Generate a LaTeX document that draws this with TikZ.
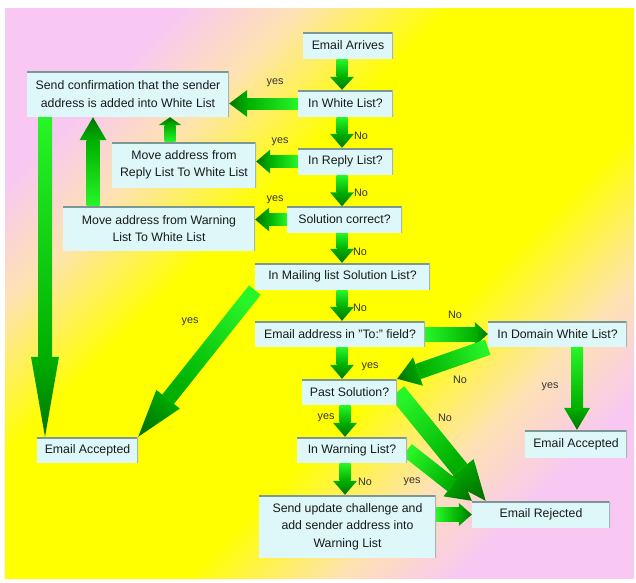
\documentclass[tikz,border=0pt]{standalone}
\usepackage{fontspec}
\setmainfont{Liberation Sans}
\usepackage{tikz}
\usetikzlibrary{calc}

\definecolor{boxfill}{RGB}{222,248,250}
\definecolor{boxedge}{RGB}{125,150,150}
\definecolor{bgpink}{RGB}{248,200,242}
\definecolor{bgpeach}{RGB}{254,226,178}
\definecolor{bgyellow}{RGB}{255,255,0}
\definecolor{arrowlight}{RGB}{40,245,40}
\definecolor{arrowmid}{RGB}{0,175,0}
\definecolor{arrowdark}{RGB}{0,118,0}

\pgfdeclarehorizontalshading{bgshade}{100bp}{color(0bp)=(bgpink); color(25bp)=(bgpink);
  color(32bp)=(bgpeach); color(41bp)=(bgyellow); color(59bp)=(bgyellow);
  color(68bp)=(bgpeach); color(75bp)=(bgpink); color(100bp)=(bgpink)}

\pgfdeclarelayer{backdrop}
\pgfdeclarelayer{arrowlayer}
\pgfsetlayers{backdrop,arrowlayer,main}

% green block arrow: from, to, shaft width, head width, head length
\newcommand{\garrow}[5]{%
  \path let \p1=(#1), \p2=(#2) in
    \pgfextra{\pgfmathparse{atan2(\y2-\y1,\x2-\x1)}\xdef\garrowang{\pgfmathresult}%
      \pgfmathparse{100*veclen((\x2-\x1)/100,(\y2-\y1)/100)}\xdef\garrowlen{\pgfmathresult}};
  \shade[x=1pt, y=1pt, shift={(#1)}, rotate=\garrowang,
    top color=arrowmid, bottom color=arrowlight, shading angle=\garrowang-90]
    (0,-#3/2) -- (\garrowlen-#5,-#3/2) -- (\garrowlen-#5,#3/2) -- (0,#3/2) -- cycle;
  \shade[x=1pt, y=1pt, shift={(#1)}, rotate=\garrowang,
    top color=arrowdark, bottom color=arrowmid, shading angle=\garrowang-90]
    (\garrowlen-#5,-#4/2) -- (\garrowlen,0) -- (\garrowlen-#5,#4/2) -- cycle;
}

\begin{document}
\begin{tikzpicture}[
  x=1pt, y=-1pt,
  box/.style={fill=boxfill, inner sep=2pt, align=center, text=black!90,
    font=\fontsize{12.3}{17.5}\selectfont,
    path picture={
      \draw[boxedge, line width=3pt] (path picture bounding box.north west) -- (path picture bounding box.north east);
      \draw[boxedge!70, line width=1.6pt] (path picture bounding box.north east) -- (path picture bounding box.south east);
    }},
  lbl/.style={font=\fontsize{10.8}{12}\selectfont, text=black!80, inner sep=1pt}
]
\useasboundingbox (0,0) rectangle (636,582);

% ==================== Background ====================
\begin{pgfonlayer}{backdrop}
  \shade[shading=bgshade, shading angle=-45] (5,8) rectangle (634,578);
\end{pgfonlayer}

% ==================== Main column ====================
\node (arrive) [box, minimum width=90pt, minimum height=27pt] at (348,45.5) {Email Arrives};
\node (white) [box, minimum width=95pt, minimum height=27pt] at (345.5,103.5) {In White List?};
\node (reply) [box, minimum width=95pt, minimum height=27pt] at (345.5,161.5) {In Reply List?};
\node (solution) [box, minimum width=115pt, minimum height=26pt] at (344.5,219.5) {Solution correct?};
\node (mailing) [box, minimum width=175pt, minimum height=27pt] at (342.5,276.5) {In Mailing list Solution List?};
\node (tofield) [box, minimum width=170pt, minimum height=26pt] at (340,334) {Email address in "To:" field?};
\node (past) [box, minimum width=95pt, minimum height=26pt] at (349.5,392) {Past Solution?};
\node (warning) [box, minimum width=110pt, minimum height=26pt] at (352,450) {In Warning List?};
\node (update) [box, minimum width=177pt, minimum height=63pt] at (347.5,526.5)
  {Send update challenge and\\add sender address into\\Warning List};

% ==================== Left side ====================
\node (confirm) [box, minimum width=202pt, minimum height=46pt] at (128,94)
  {Send confirmation that the sender\\address is added into White List};
\node (movereply) [box, minimum width=144pt, minimum height=46pt] at (184,165)
  {Move address from\\Reply List To White List};
\node (movewarn) [box, minimum width=192pt, minimum height=45pt] at (159,228.5)
  {Move address from Warning\\List To White List};
\node (acceptL) [box, minimum width=101pt, minimum height=26pt] at (87.5,450) {Email Accepted};

% ==================== Right side ====================
\node (domain) [box, minimum width=139pt, minimum height=26pt] at (557.5,334) {In Domain White List?};
\node (acceptR) [box, minimum width=102pt, minimum height=28pt] at (576,444) {Email Accepted};
\node (rejected) [box, minimum width=138pt, minimum height=27pt] at (541,514.5) {Email Rejected};

% lanes for the straight arrows
\coordinate (col) at (342,0);
\coordinate (col2) at (345,0);
\coordinate (laneA) at (45,0);
\coordinate (laneB) at (93,0);
\coordinate (laneC) at (170,0);
\coordinate (laneR) at (577,0);

% ==================== Arrows ====================
\begin{pgfonlayer}{arrowlayer}
  \garrow{arrive.south -| col}{white.north -| col}{11}{24}{13}
  \garrow{white.west}{white.west -| confirm.east}{11}{27}{18}
  \garrow{white.south -| col}{reply.north -| col}{11}{24}{14}
  \garrow{reply.west}{reply.west -| movereply.east}{12}{24}{14}
  \garrow{reply.south -| col}{solution.north -| col}{11}{24}{14}
  \garrow{solution.west}{solution.west -| movewarn.east}{12}{24}{14}
  \garrow{solution.south -| col}{mailing.north -| col}{11}{24}{14}
  \garrow{movereply.north -| laneC}{confirm.south -| laneC}{11}{23}{8}
  \garrow{movewarn.north -| laneB}{confirm.south -| laneB}{13}{27}{23}
  \garrow{confirm.south -| laneA}{acceptL.north -| laneA}{14}{28}{80}
  \garrow{mailing.south west}{acceptL.north east}{15}{30}{48}
  \garrow{mailing.south -| col}{tofield.north -| col}{11}{24}{14}
  \garrow{tofield.east}{domain.west}{14}{24}{13}
  \garrow{tofield.south -| col}{past.north -| col}{11}{24}{14}
  \garrow{domain.south west}{past.north east}{16}{30}{22}
  \garrow{domain.south -| laneR}{acceptR.north -| laneR}{12}{26}{22}
  \garrow{past.east}{$(rejected.north west)!0.1!(rejected.north east)$}{18}{34}{40}
  \garrow{past.south -| col2}{warning.north -| col2}{11}{24}{14}
  \garrow{warning.east}{rejected.north west}{15}{28}{25}
  \garrow{warning.south -| col2}{update.north -| col2}{11}{24}{14}
  \garrow{update.east |- rejected.west}{rejected.west}{14}{23}{13}
\end{pgfonlayer}

% ==================== Labels ====================
\node (y1) [lbl] at (275,83) {yes};
\node (y2) [lbl] at (280,142) {yes};
\node (y3) [lbl] at (275,200) {yes};
\node (n1) [lbl] at (361,136) {No};
\node (n2) [lbl] at (361,193) {No};
\node (n3) [lbl] at (360,252) {No};
\node (n4) [lbl] at (360,308) {No};
\node (y4) [lbl] at (190,322) {yes};
\node (n5) [lbl] at (455,315) {No};
\node (y5) [lbl] at (370,367) {yes};
\node (n6) [lbl] at (460,380) {No};
\node (y6) [lbl] at (550,387) {yes};
\node (y7) [lbl] at (326,418) {yes};
\node (n7) [lbl] at (445,418) {No};
\node (n8) [lbl] at (365,482) {No};
\node (y8) [lbl] at (412,482) {yes};

\end{tikzpicture}
\end{document}
